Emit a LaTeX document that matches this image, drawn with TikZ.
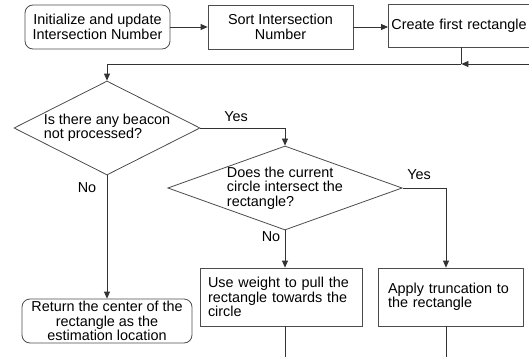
\documentclass[tikz,border=0pt]{standalone}
\usepackage{fontspec}
\setmainfont{Liberation Sans}
\usetikzlibrary{shapes.geometric,arrows.meta}
\begin{document}
\begin{tikzpicture}[x=1pt,y=-1pt, font=\fontsize{14.4}{14.5}\selectfont,
  line/.style={draw=black!80, line width=0.8pt},
  arrow/.style={line, -{Triangle[length=7pt,width=6pt]}},
  proc/.style={draw=black!70, line width=0.8pt, rectangle, inner sep=0pt},
  term/.style={proc, rounded corners=8pt},
  dec/.style={draw=black!70, line width=0.8pt, diamond, inner sep=0pt, align=left},
  lbl/.style={inner sep=0pt}]
\useasboundingbox (0,0) rectangle (529,356);
\clip (0,0) rectangle (529,356);

\node[term, minimum width=145pt, minimum height=44pt, align=center] (init) at (97.5,27) {Initialize and update\\Intersection Number};
\node[proc, minimum width=145pt, minimum height=44pt, align=center] (sort) at (280.5,27) {Sort Intersection\\Number};
\node[proc, anchor=west, minimum width=146pt, minimum height=43pt, text width=140pt, inner xsep=3pt, align=left] (create) at (388,25.5) {Create first rectangle};

\node[dec, minimum width=186pt, minimum height=94pt, aspect=1.98] (beacon) at (107,128) {Is there any beacon\\not processed?};
\node[dec, minimum width=234pt, minimum height=84pt, aspect=2.79] (inter) at (285,188) {Does the current\\circle intersect the\\rectangle?};

\node[proc, minimum width=162pt, minimum height=58pt, text width=146pt, inner xsep=8pt, align=left] (pull) at (281,297) {Use weight to pull the\\rectangle towards the\\circle};
\node[proc, minimum width=145pt, minimum height=58pt, text width=125pt, inner xsep=10pt, align=left] (trunc) at (450.5,297) {Apply truncation to\\the rectangle};
\node[term, minimum width=170pt, minimum height=44pt, align=center] (ret) at (107,321) {Return the center of the\\rectangle as the\\estimation location};

\node[lbl] (yes1) at (236,117) {Yes};
\node[lbl] (yes2) at (419,175) {Yes};
\node[lbl] (no1) at (87,188) {No};
\node[lbl] (no2) at (271,237) {No};

\coordinate (j1) at (create.south |- 0,64);
\coordinate (loopin) at (535,64);
\coordinate (c5) at ([xshift=-4.5pt]trunc.north);
\coordinate (e4) at (285,362);
\coordinate (e5) at (446,362);

\draw[arrow] (init.east) -- (sort.west);
\draw[arrow] (sort.east) -- (sort.east -| create.west);
\draw[line] (create.south) -- (j1);
\draw[arrow] (loopin) -- (j1);
\draw[arrow] (j1) -| (beacon.north);
\draw[arrow] (beacon.east) -| (inter.north);
\draw[arrow] (beacon.south) -- (ret.north);
\draw[arrow] (inter.east) -| (c5);
\draw[arrow] (inter.south) -- (inter.south |- pull.north);
\draw[line] (inter.south |- pull.south) -- (e4);
\draw[line] (c5 |- trunc.south) -- (e5);
\end{tikzpicture}
\end{document}
